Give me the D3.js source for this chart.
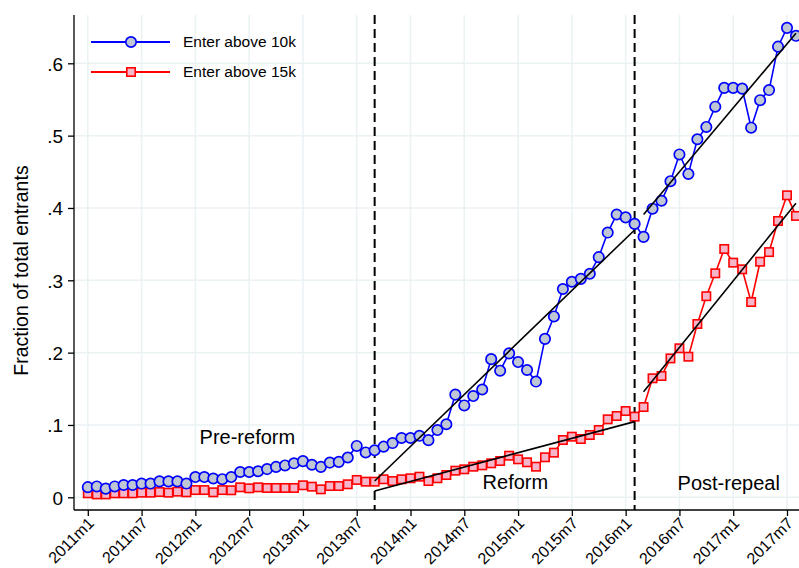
<!DOCTYPE html>
<html>
<meta charset="utf-8">
<style>
  body { margin: 0; background: #fff; }
  text { font-family: Arial, "Liberation Sans", sans-serif; fill: #000; }
  .grid line { stroke: #eaf2f3; stroke-width: 1.5; }
</style>
<body>
<script src="https://d3js.org/d3.v7.min.js"></script>
<script>
  let width = 799,
    height = 568;

  // months since 2011m1
  let tickMonths = [0, 6, 12, 18, 24, 30, 36, 42, 48, 54, 60, 66, 72, 78];
  let tickLabels = ["2011m1", "2011m7", "2012m1", "2012m7", "2013m1", "2013m7", "2014m1",
    "2014m7", "2015m1", "2015m7", "2016m1", "2016m7", "2017m1", "2017m7"];
  let yTicks = [0, .1, .2, .3, .4, .5, .6];

  // fraction of entrants, one value per month from 2011m1 to 2017m8
  let above10k = [.014, .015, .012, .015, .017, .017, .019, .019, .022, .022, .022, .019,
    .028, .028, .026, .025, .028, .035, .035, .036, .039, .042, .044, .047,
    .050, .045, .042, .048, .049, .055, .071, .062, .065, .070, .075, .082,
    .082, .085, .079, .093, .101, .142, .127, .140, .149, .191, .175, .199,
    .187, .176, .160, .219, .250, .288, .298, .302, .309, .332, .366, .391,
    .387, .378, .360, .399, .410, .437, .474, .447, .495, .512, .540, .566,
    .566, .565, .511, .549, .563, .623, .649, .638];
  let above15k = [.0055, .004, .004, .0055, .0055, .0055, .0064, .0064, .0073, .0064, .0078, .0069,
    .010, .010, .0069, .010, .0097, .0138, .0124, .0138, .0129, .0129, .0129, .0129,
    .0166, .0147, .011, .0156, .0156, .018, .024, .0216, .0216, .0249, .0225, .0249,
    .0263, .0285, .0225, .0263, .0308, .0368, .0387, .0423, .0442, .047, .0502, .0575,
    .0525, .0484, .0423, .0553, .0617, .0792, .0838, .0806, .0861, .093, .1078, .1124,
    .1193, .1115, .1248, .1645, .1677, .192, .206, .1944, .2396, .278, .3097, .3433,
    .3244, .3152, .270, .3257, .339, .382, .4175, .389];

  // policy breaks (month index) and linear fits per period: [x0, y0, x1, y1]
  let breaks = [32, 61];
  let fits = [
    [32, .0226, 61, .3696],
    [32, .0087, 61, .1046],
    [62, .391, 79, .6415],
    [62, .146, 79, .4065]
  ];
  let periodLabels = ["Pre-reform", "Reform", "Post-repeal"];
  let periodPos = [[17.8, .083], [47.7, .021], [71.5, .020]];

  let x = d3.scaleLinear().domain([0, 78]).range([87.8, 787]);
  let y = d3.scaleLinear().domain([0, .6]).range([497.3, 63.3]);
  let pLeft = 74, pRight = 799, pTop = 15, pBottom = 510;

  let svg = d3.select("body").append("svg")
    .attr("width", width)
    .attr("height", height);

  // grid
  let grid = svg.append("g").attr("class", "grid");
  grid.selectAll(".gy").data(yTicks).enter().append("line")
    .attr("x1", pLeft).attr("x2", pRight)
    .attr("y1", d => y(d)).attr("y2", d => y(d));
  grid.selectAll(".gx").data(tickMonths).enter().append("line")
    .attr("x1", d => x(d)).attr("x2", d => x(d))
    .attr("y1", pTop).attr("y2", pBottom);

  // axes
  let yAxis = d3.axisLeft(y).tickValues(yTicks).tickSize(6).tickPadding(5)
    .tickFormat(d => d === 0 ? "0" : d3.format(".1f")(d).replace(/^0/, ""));
  let gy = svg.append("g").attr("transform", "translate(" + pLeft + ",0)").call(yAxis);
  gy.select(".domain").remove();
  gy.selectAll("text").style("font-size", "19px").attr("dy", "0.36em");
  svg.append("line").attr("x1", pLeft).attr("x2", pLeft).attr("y1", pTop).attr("y2", pBottom)
    .attr("stroke", "#000").attr("stroke-width", 1.3);

  let xAxis = d3.axisBottom(x).tickValues(tickMonths).tickSize(6)
    .tickFormat((d, i) => tickLabels[i]);
  let gx = svg.append("g").attr("transform", "translate(0," + pBottom + ")").call(xAxis);
  gx.select(".domain").remove();
  gx.selectAll("text")
    .style("font-size", "16px")
    .style("text-anchor", "end")
    .attr("dx", "0.1em").attr("dy", "0.55em")
    .attr("transform", "rotate(-45) translate(-7,-3)");
  svg.append("line").attr("x1", pLeft).attr("x2", pRight).attr("y1", pBottom).attr("y2", pBottom)
    .attr("stroke", "#000").attr("stroke-width", 1.3);
  svg.selectAll(".tick line").attr("stroke", "#000").attr("stroke-width", 1.3);

  // y title
  svg.append("text")
    .attr("transform", "translate(28," + ((pTop + pBottom) / 2 + 8) + ") rotate(-90)")
    .attr("text-anchor", "middle")
    .style("font-size", "19.5px")
    .text("Fraction of total entrants");

  // break lines
  svg.selectAll(".brk").data(breaks).enter().append("line")
    .attr("x1", d => x(d)).attr("x2", d => x(d))
    .attr("y1", pTop).attr("y2", pBottom)
    .attr("stroke", "#000").attr("stroke-width", 2)
    .attr("stroke-dasharray", "9,5");

  let line = d3.line().x((d, i) => x(i)).y(d => y(d));

  // red series
  svg.append("path").datum(above15k).attr("d", line)
    .attr("fill", "none").attr("stroke", "#ff0000").attr("stroke-width", 1.6);
  svg.selectAll(".sq").data(above15k).enter().append("rect")
    .attr("x", (d, i) => x(i) - 4.2).attr("y", d => y(d) - 4.2)
    .attr("width", 8.4).attr("height", 8.4)
    .attr("fill", "#f6b5c8").attr("stroke", "#ff0000").attr("stroke-width", 1.6);

  // blue series
  svg.append("path").datum(above10k).attr("d", line)
    .attr("fill", "none").attr("stroke", "#0000ff").attr("stroke-width", 1.6);
  svg.selectAll(".ci").data(above10k).enter().append("circle")
    .attr("cx", (d, i) => x(i)).attr("cy", d => y(d)).attr("r", 5.2)
    .attr("fill", "#bfc7d5").attr("stroke", "#0000ff").attr("stroke-width", 1.7);

  // fitted lines
  svg.selectAll(".fit").data(fits).enter().append("line")
    .attr("x1", d => x(d[0])).attr("y1", d => y(d[1]))
    .attr("x2", d => x(d[2])).attr("y2", d => y(d[3]))
    .attr("stroke", "#000").attr("stroke-width", 1.6);

  // period labels
  svg.selectAll(".plab").data(periodLabels).enter().append("text")
    .attr("x", (d, i) => x(periodPos[i][0])).attr("y", (d, i) => y(periodPos[i][1]))
    .attr("text-anchor", "middle").attr("dy", "0.35em")
    .style("font-size", "20px")
    .text(d => d);

  // legend
  let legend = [
    { name: "Enter above 10k", color: "#0000ff", fill: "#bfc7d5", shape: "circle" },
    { name: "Enter above 15k", color: "#ff0000", fill: "#f6b5c8", shape: "square" }
  ];
  let lg = svg.selectAll(".lg").data(legend).enter().append("g")
    .attr("transform", (d, i) => "translate(0," + (42 + i * 30) + ")");
  lg.append("line").attr("x1", 91).attr("x2", 170)
    .attr("stroke", d => d.color).attr("stroke-width", 1.8);
  lg.filter(d => d.shape === "circle").append("circle")
    .attr("cx", 131).attr("r", 5.2)
    .attr("fill", d => d.fill).attr("stroke", d => d.color).attr("stroke-width", 1.7);
  lg.filter(d => d.shape === "square").append("rect")
    .attr("x", 131 - 4.2).attr("y", -4.2).attr("width", 8.4).attr("height", 8.4)
    .attr("fill", d => d.fill).attr("stroke", d => d.color).attr("stroke-width", 1.6);
  lg.append("text").attr("x", 183).attr("dy", "0.35em")
    .style("font-size", "15.5px")
    .text(d => d.name);
</script>
</body>
</html>
